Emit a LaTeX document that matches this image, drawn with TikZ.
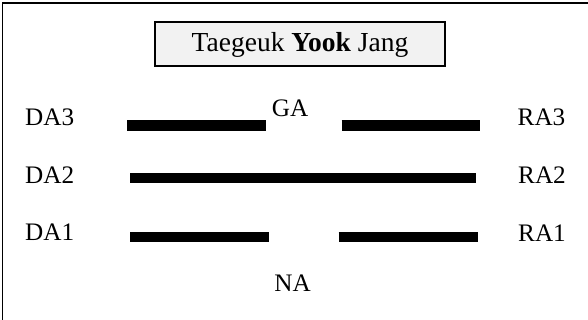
\documentclass[tikz,border=0pt]{standalone}
\usepackage{fontspec}
\setmainfont{Liberation Serif}
\definecolor{boxgray}{RGB}{242,242,242}
\begin{document}
\begin{tikzpicture}[x=1pt,y=-1pt,
  lbl/.style={inner sep=0pt, font=\fontsize{25.2}{30}\selectfont},
  bar/.style={line width=10.6pt},
  frameline/.style={line width=1.8pt},
  titlebox/.style={draw, fill=boxgray, line width=2pt, minimum width=290pt,
    minimum height=43.2pt, inner sep=0pt, text height=21pt, text depth=6pt,
    font=\fontsize{27.5}{32}\selectfont}]
  \useasboundingbox (0,0) rectangle (588,320);
  % frame (top and left edges)
  \coordinate (fbl) at (2.5,320);
  \coordinate (ftl) at (2.5,3);
  \coordinate (ftr) at (588,3);
  \draw[frameline] (fbl) -- (ftl) -- (ftr);
  % title
  \node[titlebox] (title) at (300,44.1) {Taegeuk \textbf{Yook} Jang};
  % labels
  \node[lbl, anchor=base] (ga) at (290,116.7) {GA};
  \node[lbl, anchor=base] (na) at (292.5,291) {NA};
  \node[lbl, anchor=base west] (da3) at (25,126) {DA3};
  \node[lbl, anchor=base west] (da2) at (25,183.3) {DA2};
  \node[lbl, anchor=base west] (da1) at (25,240.5) {DA1};
  \node[lbl, anchor=base west] (ra3) at (517.5,125.5) {RA3};
  \node[lbl, anchor=base west] (ra2) at (518,184) {RA2};
  \node[lbl, anchor=base west] (ra1) at (518,241.7) {RA1};
  % bars
  \coordinate (l3a) at (127.3,125.5);
  \coordinate (l3b) at (265.7,125.5);
  \coordinate (r3a) at (341.5,125.5);
  \coordinate (r3b) at (480.3,125.5);
  \coordinate (m2a) at (130,178);
  \coordinate (m2b) at (475.7,178);
  \coordinate (l1a) at (130,237);
  \coordinate (l1b) at (268.7,237);
  \coordinate (r1a) at (338.7,237);
  \coordinate (r1b) at (478,237);
  \draw[bar] (l3a) -- (l3b);
  \draw[bar] (r3a) -- (r3b);
  \draw[bar] (m2a) -- (m2b);
  \draw[bar] (l1a) -- (l1b);
  \draw[bar] (r1a) -- (r1b);
\end{tikzpicture}
\end{document}
